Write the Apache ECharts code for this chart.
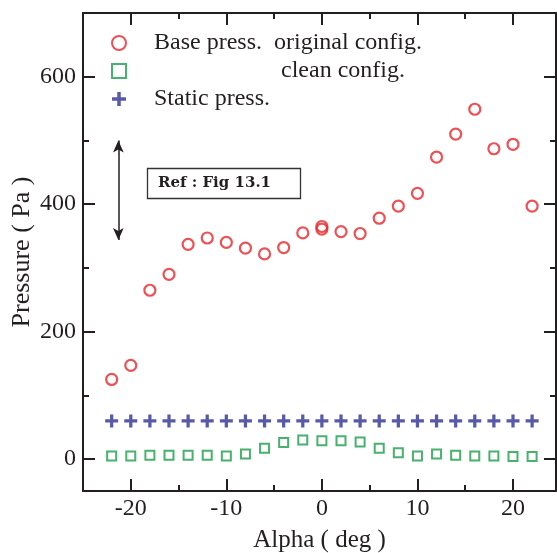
<!DOCTYPE html>
<html>
<head>
<meta charset="utf-8">
<script src="https://cdn.jsdelivr.net/npm/echarts@6/dist/echarts.min.js"></script>
<style>html,body{margin:0;padding:0;background:#fff;}#c{width:557px;height:553px;}</style>
</head>
<body>
<div id="c"></div>
<script>
var alpha = [-22,-20,-18,-16,-14,-12,-10,-8,-6,-4,-2,0,2,4,6,8,10,12,14,16,18,20,22];
var baseOriginal = [125,147,265,290,337,347,340,331,322,332,355,361,357,354,378,397,417,474,510,549,487,494,397];
var baseExtraAt0 = [[0,365]];
var cleanConfig = [5,5,6,6,6,6,5,8,17,26,30,29,29,27,17,10,5,8,6,5,5,4,4];
var staticPress = [60,60,60,60,60,60,60,60,60,60,60,60,60,60,60,60,60,60,60,60,60,60,60];
var nameBase = 'Base press.  original config.';
var nameClean = 'clean config.';
var nameStatic = 'Static press.';

function pairs(xs, ys){ return xs.map(function(x,i){ return [x, ys[i]]; }); }

var serif = 'Liberation Serif';
var axisColor = '#231f20';
var chart = echarts.init(document.getElementById('c'));

function xAx(pos, labels){
  return {
    type:'value', position:pos, min:-25, max:24.5, splitNumber:5,
    axisLine:{show:true, onZero:false, lineStyle:{color:axisColor, width:2}},
    axisTick:{show:true, inside:true, length:12, lineStyle:{color:axisColor, width:2}},
    minorTick:{show:true, splitNumber:2, length:6, lineStyle:{color:axisColor, width:2}},
    axisLabel:{show:labels, color:'#231f20', fontFamily:serif, fontSize:24, margin:6, showMinLabel:false, showMaxLabel:false},
    splitLine:{show:false},
    name: labels ? 'Alpha ( deg )' : '', nameLocation:'middle', nameGap:37, nameMoveOverlap:false,
    nameTextStyle:{color:'#231f20', fontFamily:serif, fontSize:25}
  };
}
function yAx(pos, labels){
  return {
    type:'value', position:pos, min:-50, max:700, splitNumber:4,
    axisLine:{show:true, onZero:false, lineStyle:{color:axisColor, width:2}},
    axisTick:{show:true, inside:true, length:12, lineStyle:{color:axisColor, width:2}},
    minorTick:{show:true, splitNumber:2, length:6, lineStyle:{color:axisColor, width:2}},
    axisLabel:{show:labels, color:'#231f20', fontFamily:serif, fontSize:24, margin:7, showMinLabel:false, showMaxLabel:false},
    splitLine:{show:false},
    name: labels ? 'Pressure ( Pa )' : '', nameLocation:'middle', nameGap:48, nameMoveOverlap:false,
    nameTextStyle:{color:'#231f20', fontFamily:serif, fontSize:26}
  };
}

var plusPath = 'path://M3.75,0 H6.25 V3.75 H10 V6.25 H6.25 V10 H3.75 V6.25 H0 V3.75 H3.75 Z';

chart.setOption({
  animation:false,
  backgroundColor:'#fff',
  title:{
    text:'Ref : Fig 13.1', left:147, top:168,
    borderColor:'#333', borderWidth:1.3, padding:[8,30,8,11],
    textStyle:{fontFamily:'DejaVu Serif', fontWeight:'bold', fontSize:15, color:'#231f20'}
  },
  legend:{
    orient:'vertical', left:111, top:31, padding:0, itemWidth:14, itemHeight:14, itemGap:4,
    data:[nameBase, nameClean, nameStatic],
    selectedMode:false,
    formatter:function(n){ return n===nameClean ? '{h|}'+n : '{g|}'+n; },
    textStyle:{fontFamily:serif, fontSize:24, color:'#231f20', lineHeight:24,
      rich:{g:{width:23}, h:{width:150}}}
  },
  grid:{left:83, right:1, top:13, bottom:62, containLabel:false, outerBoundsMode:'none'},
  xAxis:[xAx('bottom', true), xAx('top', false)],
  yAxis:[yAx('left', true), yAx('right', false)],
  series:[
    {
      name:nameBase, type:'scatter', symbol:'circle', symbolSize:11,
      itemStyle:{color:'rgba(255,255,255,0)', borderColor:'#e8262a', borderWidth:2.2},
      data: pairs(alpha, baseOriginal).concat(baseExtraAt0)
    },
    {
      name:nameClean, type:'scatter', symbol:'rect', symbolSize:9,
      itemStyle:{color:'rgba(255,255,255,0)', borderColor:'#1a9e48', borderWidth:2},
      data: pairs(alpha, cleanConfig)
    },
    {
      name:nameStatic, type:'scatter', symbol:plusPath, symbolSize:13,
      itemStyle:{color:'#2e3192'},
      data: pairs(alpha, staticPress),
      markLine:{
        silent:true, symbol:['arrow','arrow'], symbolSize:[8,12],
        lineStyle:{color:'#231f20', width:1.5, type:'solid'},
        label:{show:false},
        data:[[{coord:[-21.3,500]},{coord:[-21.3,344]}]]
      }
    }
  ]
});
</script>
</body>
</html>
